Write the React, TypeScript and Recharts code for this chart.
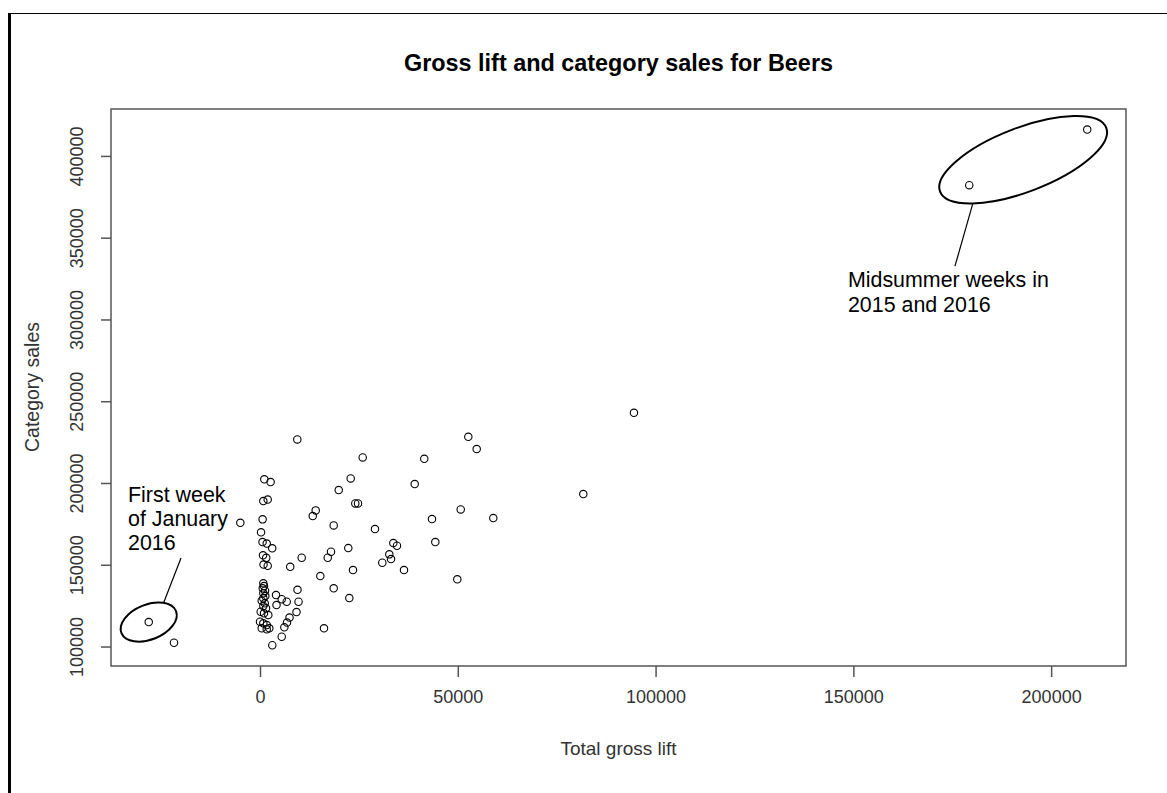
import React from 'react';
import {
  ScatterChart,
  Scatter,
  XAxis,
  YAxis,
  ReferenceArea,
  ReferenceDot,
  ReferenceLine,
} from 'recharts';

// Weekly observations: total gross lift vs. beer category sales
const grossLift = [
  209000, 179170, -28260, -21870, -5106,
  94410, 52530, 54650, 81600, 50610, 58850, 49750,
  41400, 38980, 43350, 44190, 25830, 22800, 19770, 23960, 24650,
  13950, 13200, 18500, 28940, 33570, 34500, 22190, 17820, 16990,
  32560, 32990, 30790, 10410, 23380, 36270, 15120, 18500, 22450, 16050,
  9300, 960, 2550, 710, 1820, 530, 130, 510, 1570, 2960,
  630, 1440, 760, 1820, 7510, 9350, 9610, 9100, 7330, 6700,
  6020, 5360, 2980, 3920, 4040, 5360, 6620,
  710, 880, 560, 1140, 710, 1210, 710, 300, 1060, 710,
  1390, 50, 880, 1970, -130, 710, 1570, 300, 1570, 2220,
];

const categorySales = [
  416400, 382400, 115280, 102630, 175980,
  243220, 228550, 221030, 193520, 184170, 178850, 141380,
  215100, 199630, 178240, 164180, 215950, 203120, 195970, 187840, 187840,
  183560, 180070, 174390, 172130, 163570, 161920, 160510, 158250, 154580,
  156660, 153790, 151530, 154580, 147070, 147070, 143400, 135880, 129950, 111430,
  226960, 202570, 200860, 189240, 190160, 178060, 170170, 164180, 163260, 160330,
  156050, 154520, 150430, 149630, 149020, 134960, 127690, 121390, 118030, 114980,
  112040, 106300, 101100, 131790, 125670, 129220, 127690,
  138940, 137290, 135880, 134410, 132820, 131170, 129770, 128300, 126710, 125060,
  123660, 121580, 120600, 119560, 115460, 114490, 113450, 111430, 110820, 111430,
];

const xTicks = [0, 50000, 100000, 150000, 200000];
const yTicks = [100000, 150000, 200000, 250000, 300000, 350000, 400000];

const xDomain: [number, number] = [-37800, 218800];
const yDomain: [number, number] = [88400, 429000];

// Annotated weeks
const midsummerCenter = { x: 192800, y: 397980 };
const midsummerLeader = [
  { x: 180030, y: 370780 },
  { x: 175560, y: 332890 },
];
const midsummerLabel = { x: 148510, y: 324940, lines: ['Midsummer weeks in', '2015 and 2016'] };

const newYearCenter = { x: -28260, y: 115280 };
const newYearLeader = [
  { x: -24520, y: 126890 },
  { x: -20100, y: 154400 },
];
const newYearLabel = { x: -33490, y: 193520, lines: ['First week', 'of January', '2016'] };

const data = grossLift.map((x, i) => ({ x, y: categorySales[i] }));

const FONT = '"Liberation Sans", Arial, Helvetica, sans-serif';
const TEXT = '#333';
const LINE = '#555';

const OpenCircle = (props: any) => (
  <circle cx={props.cx} cy={props.cy} r={3.7} fill="none" stroke="#000" strokeWidth={1.1} />
);

const makeEllipse = (rx: number, ry: number, angle: number) => (props: any) => (
  <ellipse
    cx={props.cx}
    cy={props.cy}
    rx={rx}
    ry={ry}
    transform={`rotate(${angle} ${props.cx} ${props.cy})`}
    fill="none"
    stroke="#000"
    strokeWidth={2}
  />
);

const makeNote = (lines: string[], lineHeight: number) => (props: any) => (
  <g>
    {lines.map((t, i) => (
      <text
        key={i}
        x={props.cx}
        y={props.cy + i * lineHeight}
        dy="0.36em"
        textAnchor="start"
        fontFamily={FONT}
        fontSize={21.4}
        fill="#000"
      >
        {t}
      </text>
    ))}
  </g>
);

const YTick = (props: any) => {
  const { x, y, payload } = props;
  return (
    <text
      x={x}
      y={y}
      dy="0.36em"
      textAnchor="middle"
      transform={`rotate(-90 ${x} ${y})`}
      fontFamily={FONT}
      fontSize={18}
      fill={TEXT}
    >
      {payload.value}
    </text>
  );
};

export default function App() {
  return (
    <div style={{ position: 'absolute', left: 0, top: 0, width: 1167, height: 793, background: '#fff' }}>
      <div style={{ position: 'absolute', left: 8, top: 13, width: 1159, height: 1, background: '#000' }} />
      <div style={{ position: 'absolute', left: 8, top: 13, width: 3, height: 780, background: '#000' }} />
      <ScatterChart
        width={1167}
        height={793}
        margin={{ top: 109, right: 41, bottom: 0, left: 0 }}
        style={{ position: 'absolute', left: 0, top: 0 }}
      >
        <XAxis
          type="number"
          dataKey="x"
          domain={xDomain}
          allowDataOverflow
          ticks={xTicks}
          interval={0}
          height={127}
          axisLine={false}
          tickSize={11}
          tickMargin={13}
          tickLine={{ stroke: LINE, strokeWidth: 1.5 }}
          tick={{ fontSize: 18, fill: TEXT, fontFamily: FONT }}
        />
        <YAxis
          type="number"
          dataKey="y"
          domain={yDomain}
          allowDataOverflow
          ticks={yTicks}
          interval={0}
          width={111}
          axisLine={false}
          tickSize={10}
          tickMargin={24}
          tickLine={{ stroke: LINE, strokeWidth: 1.5 }}
          tick={<YTick />}
        />
        <ReferenceArea
          x1={xDomain[0]}
          x2={xDomain[1]}
          y1={yDomain[0]}
          y2={yDomain[1]}
          fill="none"
          fillOpacity={0}
          stroke={LINE}
          strokeWidth={1.5}
          ifOverflow="visible"
        />
        <Scatter data={data} shape={OpenCircle} isAnimationActive={false} />
        <ReferenceDot
          x={midsummerCenter.x}
          y={midsummerCenter.y}
          shape={makeEllipse(89, 32, -21)}
          ifOverflow="visible"
        />
        <ReferenceDot
          x={newYearCenter.x}
          y={newYearCenter.y}
          shape={makeEllipse(29.4, 17.5, -22)}
          ifOverflow="visible"
        />
        <ReferenceLine segment={midsummerLeader} stroke="#000" strokeWidth={1.2} ifOverflow="visible" />
        <ReferenceLine segment={newYearLeader} stroke="#000" strokeWidth={1.2} ifOverflow="visible" />
        <ReferenceDot
          x={midsummerLabel.x}
          y={midsummerLabel.y}
          shape={makeNote(midsummerLabel.lines, 25)}
          ifOverflow="visible"
        />
        <ReferenceDot
          x={newYearLabel.x}
          y={newYearLabel.y}
          shape={makeNote(newYearLabel.lines, 24)}
          ifOverflow="visible"
        />
        <text x={618.5} y={63} dy="0.36em" textAnchor="middle" fontFamily={FONT} fontSize={23.4} fontWeight="bold" fill="#000">
          Gross lift and category sales for Beers
        </text>
        <text x={618.5} y={748} dy="0.36em" textAnchor="middle" fontFamily={FONT} fontSize={19} fill={TEXT}>
          Total gross lift
        </text>
        <text
          x={32}
          y={387}
          dy="0.36em"
          textAnchor="middle"
          transform="rotate(-90 32 387)"
          fontFamily={FONT}
          fontSize={19.5}
          fill={TEXT}
        >
          Category sales
        </text>
      </ScatterChart>
    </div>
  );
}
